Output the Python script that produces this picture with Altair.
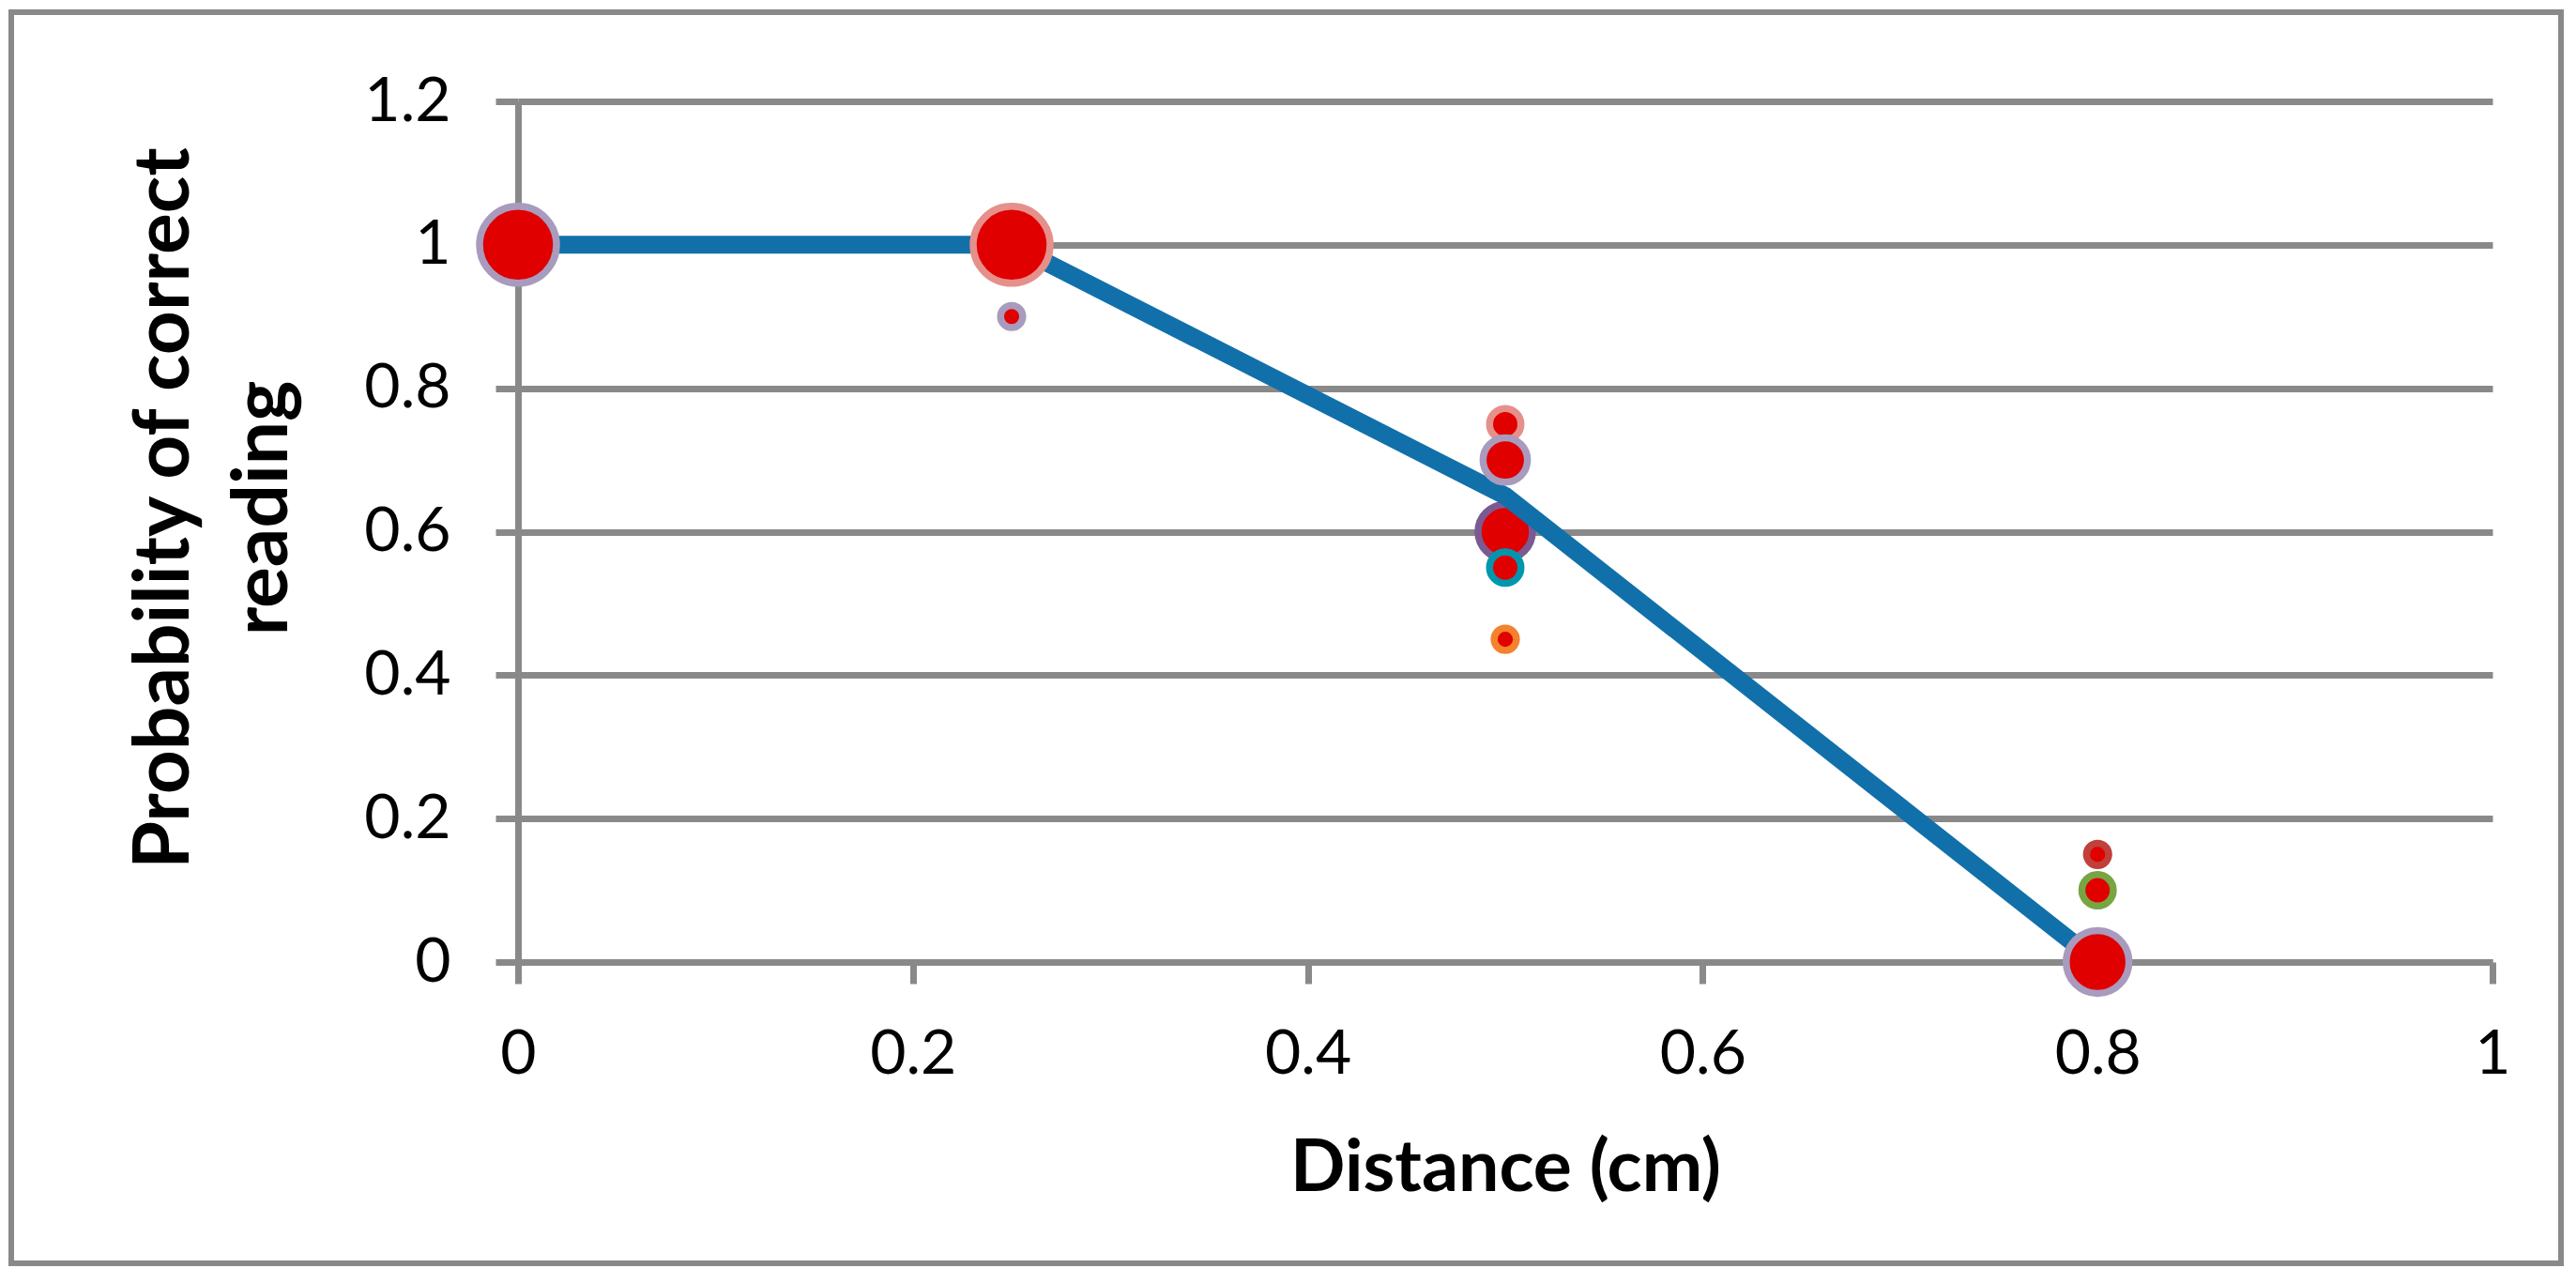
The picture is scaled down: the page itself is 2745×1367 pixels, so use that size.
import altair as alt
import pandas as pd

# ---- data ----
bubble_x = [0, 0.25, 0.25, 0.5, 0.5, 0.5, 0.5, 0.5, 0.8, 0.8, 0.8]
bubble_y = [1, 1, 0.9, 0.75, 0.7, 0.6, 0.55, 0.45, 0.15, 0.1, 0]
bubble_n = [12, 12, 1, 2, 4, 6, 2, 1, 1, 2, 8]
bubble_series = ["A", "B", "A", "B", "A", "C", "D", "E", "F", "G", "A"]

series_names = ["A", "B", "C", "D", "E", "F", "G"]
series_colors = ["#A99BBD", "#E5908B", "#7B5A92", "#0097AE", "#F5822E", "#C0403C", "#77A541"]

line_x = [0, 0.25, 0.5, 0.8]
line_y = [1, 1, 0.65, 0]

x_ticks = [0, 0.2, 0.4, 0.6, 0.8, 1]
y_ticks = [0, 0.2, 0.4, 0.6, 0.8, 1, 1.2]

x_title = "Distance (cm)"
y_title = ["Probability of correct", "reading"]

GRAY = "#898989"
FONT = "Lato"

bubbles = pd.DataFrame({"x": bubble_x, "y": bubble_y, "n": bubble_n, "series": bubble_series})
line_df = pd.DataFrame({"x": line_x, "y": line_y})

X = alt.X(
    "x:Q",
    scale=alt.Scale(domain=[0, 1], nice=False, zero=True),
    axis=alt.Axis(
        values=x_ticks, format="~g", grid=False,
        domainColor=GRAY, domainWidth=7, tickColor=GRAY, tickWidth=7, tickSize=23,
        labelFont=FONT, labelFontSize=66, labelColor="black", labelPadding=95,
        labelBaseline="alphabetic", labelFlush=False, labelOverlap=False,
        title=x_title, titleFont=FONT, titleFontSize=77, titleFontWeight="bold",
        titleColor="black", titleY=243, titleBaseline="alphabetic",
    ),
)
Y = alt.Y(
    "y:Q",
    scale=alt.Scale(domain=[0, 1.2], nice=False, zero=True),
    axis=alt.Axis(
        values=y_ticks, format="~g", grid=True, gridColor=GRAY, gridWidth=7,
        domainColor=GRAY, domainWidth=7, tickColor=GRAY, tickWidth=7, tickSize=24,
        labelFont=FONT, labelFontSize=66, labelColor="black", labelPadding=48,
        labelFlush=False, labelOverlap=False,
        title=y_title, titleFont=FONT, titleFontSize=82, titleFontWeight="bold",
        titleColor="black", titleAngle=270, titleX=-352, titleY=433,
        titleBaseline="alphabetic", titleAlign="center", titleLineHeight=105,
    ),
)

size_enc = alt.Size("n:Q", scale=alt.Scale(domain=[0, 12], range=[0, 6724]), legend=None)
stroke_enc = alt.Stroke("series:N", scale=alt.Scale(domain=series_names, range=series_colors), legend=None)

border = alt.Chart(alt.Data(values=[{}])).mark_rect(
    fillOpacity=0, stroke=GRAY, strokeWidth=6
).encode(
    x=alt.value(-540), x2=alt.value(2177), y=alt.value(-95), y2=alt.value(1238)
)

bubbles_below = alt.Chart(bubbles).transform_filter(
    alt.datum.series == "C"
).mark_point(shape="circle", filled=True, fill="#E00000", opacity=1, fillOpacity=1, strokeWidth=7.5).encode(
    x=X, y=Y, size=size_enc, stroke=stroke_enc
)

line = alt.Chart(line_df).mark_line(
    color="#1170AA", strokeWidth=19, strokeCap="butt", strokeJoin="miter"
).encode(x=X, y=Y)

bubbles_above = alt.Chart(bubbles).transform_filter(
    alt.datum.series != "C"
).mark_point(shape="circle", filled=True, fill="#E00000", opacity=1, fillOpacity=1, strokeWidth=7.5).encode(
    x=X, y=Y, size=size_enc, stroke=stroke_enc
)

chart = alt.layer(border, bubbles_below, line, bubbles_above).properties(
    width=2104, height=917,
    autosize=alt.AutoSizeParams(type="none"),
    padding={"left": 544, "top": 100, "right": 80, "bottom": 330},
    background="white",
).configure_view(strokeWidth=0)

chart.save("out.html", embed_options={"renderer": "svg", "actions": False})
